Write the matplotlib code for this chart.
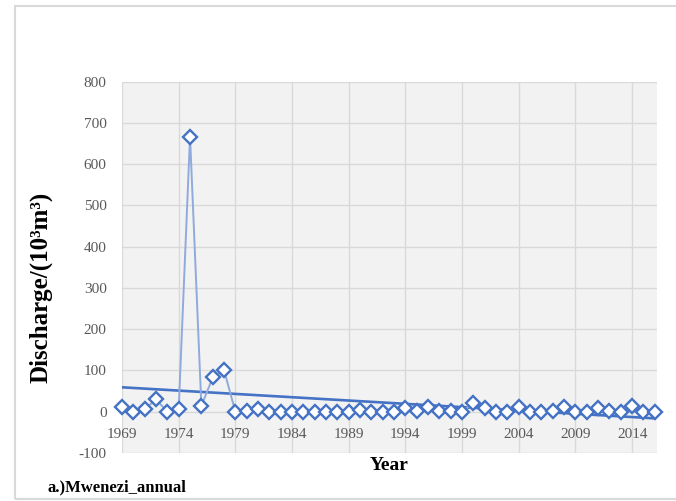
import numpy as np
import matplotlib
matplotlib.use("Agg")
import matplotlib.pyplot as plt
from matplotlib.patches import Rectangle

# Annual discharge, Mwenezi
years = list(range(1969, 2017))
discharge = [12, 0, 6, 30, 0, 6, 667, 14, 83, 101,
             0, 1, 7, 0, 0, 0, 0, 0, 0, 0,
             0, 5, 0, 0, 0, 8, 2, 11, 2, 2,
             0, 22, 9, 0, 0, 11, 0, 0, 2, 11,
             0, 0, 8, 2, 0, 14, 0, 0]
yticks = list(range(-100, 900, 100))
xticks = list(range(1969, 2017, 5))

serif = "Liberation Serif"
blue = "#4472C4"
line_blue = "#8FAADC"
plt.rcParams["axes.unicode_minus"] = False

fig = plt.figure(figsize=(6.76, 5.01), dpi=100)
ax = fig.add_axes([0.1805, 0.0958, 0.7915, 0.7412])

# outer chart border
fig.patches.append(Rectangle((15 / 676, 2 / 501), 1.0, 493 / 501,
                             transform=fig.transFigure, fill=False,
                             edgecolor="#d9d9d9", linewidth=1.5))

ax.set_facecolor("#f2f2f2")
ax.plot(years, discharge, color=line_blue, linewidth=1.4, marker="D",
        markersize=7.3, markerfacecolor="white", markeredgecolor=blue,
        markeredgewidth=1.7, zorder=3, clip_on=False)

# linear trend line
coef = np.polyfit(years, discharge, 1)
ax.plot(years, np.polyval(coef, years), color=blue, linewidth=1.9, zorder=2)

ax.set_xlim(1969, 2016.2)
ax.set_ylim(-100, 800)
ax.set_xticks(xticks)
ax.set_yticks(yticks)
# category axis crosses the value axis at 0, like the Excel original
ax.spines["bottom"].set_position(("data", 0))
ax.tick_params(axis="y", length=0, labelsize=11, labelcolor="#595959", pad=11)
ax.tick_params(axis="x", length=0, labelsize=11, labelcolor="#595959", pad=12)
for lab in ax.get_xticklabels() + ax.get_yticklabels():
    lab.set_fontfamily(serif)
ax.grid(True, color="#d9d9d9", linewidth=1)
ax.set_axisbelow(True)
for s in ax.spines.values():
    s.set_visible(False)

fig.text(41 / 676, 1 - 287 / 501, "Discharge/(10³m³)", fontfamily=serif,
         fontsize=18, fontweight="bold", rotation=90, va="center", ha="center")
fig.text(389 / 676, 1 - 466 / 501, "Year", fontfamily=serif, fontsize=14,
         fontweight="bold", va="center", ha="center")
fig.text(48 / 676, 1 - 487 / 501, "a.)Mwenezi_annual", fontfamily=serif,
         fontsize=12, fontweight="bold", va="center", ha="left")

fig.savefig("out.png", dpi=100)
